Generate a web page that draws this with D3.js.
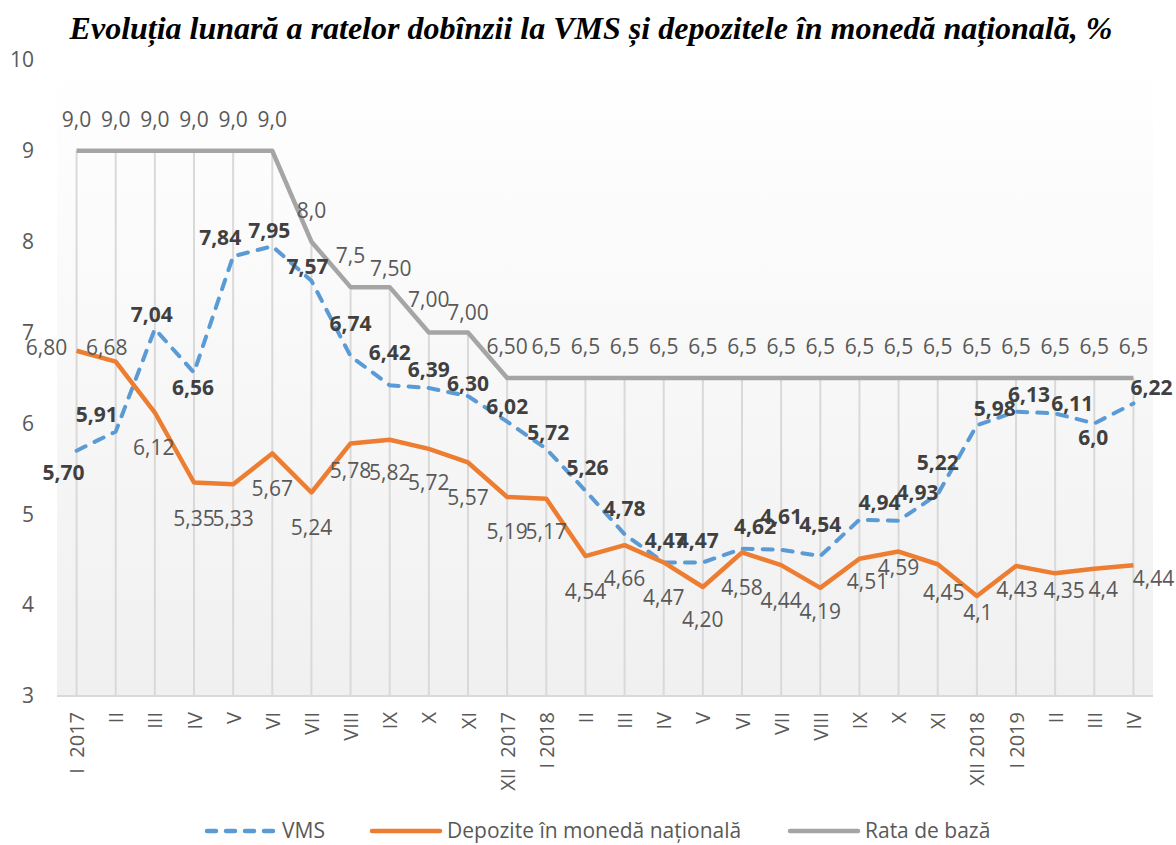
<!DOCTYPE html>
<html>
<head>
<meta charset="utf-8">
<script src="https://cdn.jsdelivr.net/npm/d3@7"></script>
<style>
  body { margin: 0; background: #fff; }
  svg text { white-space: pre; }
</style>
</head>
<body>
<div id="chart-area"></div>
<script>
// categories (months)
var categories = ["I  2017","II","III","IV","V","VI","VII","VIII","IX","X","XI","XII  2017",
    "I 2018","II","III","IV","V","VI","VII","VIII","IX","X","XI","XII 2018",
    "I 2019","II","III","IV"];

var vms = [5.70,5.91,7.04,6.56,7.84,7.95,7.57,6.74,6.42,6.39,6.30,6.02,5.72,5.26,4.78,4.47,4.47,
    4.62,4.61,4.54,4.94,4.93,5.22,5.98,6.13,6.11,6.0,6.22];
var depozite = [6.80,6.68,6.12,5.35,5.33,5.67,5.24,5.78,5.82,5.72,5.57,5.19,5.17,4.54,4.66,4.47,4.20,
    4.58,4.44,4.19,4.51,4.59,4.45,4.1,4.43,4.35,4.4,4.44];
var rataBaza = [9.0,9.0,9.0,9.0,9.0,9.0,8.0,7.5,7.50,7.00,7.00,6.50,6.5,6.5,6.5,6.5,6.5,6.5,6.5,6.5,
    6.5,6.5,6.5,6.5,6.5,6.5,6.5,6.5];

// decimals shown in the data labels
var vmsDecimals = [2,2,2,2,2,2,2,2,2,2,2,2,2,2,2,2,2,2,2,2,2,2,2,2,2,2,1,2];
var depDecimals = [2,2,2,2,2,2,2,2,2,2,2,2,2,2,2,2,2,2,2,2,2,2,2,1,2,2,1,2];
var rataDecimals = [1,1,1,1,1,1,1,1,2,2,2,2,1,1,1,1,1,1,1,1,1,1,1,1,1,1,1,1];

var yTicks = [3,4,5,6,7,8,9,10];
var seriesNames = ["VMS","Depozite în monedă națională","Rata de bază"];

// label nudges (px) relative to each point
var vmsShift = [[-13,22],[-19,-17],[-3,-14],[-1,15],[-13,-19],[-3,-16],[-4,-14],[0,-33],[0,-33],[0,-18],
    [0,-13],[0,-15],[2,-16],[2,-23],[0,-26],[2,-22],[-5,-22],[13,-22],[0,-33],[0,-31],[20,-17],[19,-28],
    [0,-32],[18,-17],[13,-17],[17,-10],[-1,14],[18,-16]];
var depShift = [[-30,-3],[-9,-14],[-1,35],[0,36],[0,34],[0,35],[0,35],[0,27],[0,33],[0,34],[0,35],[0,35],
    [0,33],[0,36],[0,33],[0,35],[0,33],[0,35],[0,35],[0,24],[8,23],[0,16],[6,28],[1,17],[1,24],[9,17],
    [9,21],[20,13]];
var rataShift = categories.map((c,i) => i == 8 ? [1,-18] : i == 10 ? [0,-20] : i == 9 ? [0,-33] : [0,-31]);

var width = 1176, height = 845;
var plotLeft = 57, plotRight = 1153, plotTop = 60, plotBottom = 696;

var svg = d3.select("#chart-area").append("svg")
    .attr("width", width)
    .attr("height", height)
    .style("font-family", "'Open Sans', sans-serif");

var grad = svg.append("defs").append("linearGradient")
    .attr("id", "bg").attr("x1", 0).attr("y1", 0).attr("x2", 0).attr("y2", 1);
grad.append("stop").attr("offset", "0%").attr("stop-color", "#ffffff");
grad.append("stop").attr("offset", "100%").attr("stop-color", "#f0f0f0");

svg.append("rect")
    .attr("x", plotLeft).attr("y", plotTop)
    .attr("width", plotRight - plotLeft).attr("height", plotBottom - plotTop)
    .attr("fill", "url(#bg)");

// title
svg.append("text")
    .attr("x", 591).attr("y", 39)
    .attr("text-anchor", "middle")
    .style("font-family", "'Liberation Serif', 'Times New Roman', serif")
    .style("font-weight", "bold")
    .style("font-style", "italic")
    .style("font-size", "32px")
    .attr("fill", "#000")
    .text("Evoluția lunară a ratelor dobînzii la VMS și depozitele în monedă națională, %");

var x = d3.scalePoint()
    .domain(d3.range(categories.length))
    .range([plotLeft, plotRight])
    .padding(0.5);

var y = d3.scaleLinear()
    .domain([3, 10])
    .range([plotBottom, plotTop]);

// drop lines
svg.append("g").selectAll("line")
    .data(d3.range(categories.length))
    .enter().append("line")
        .attr("x1", (i) => x(i)).attr("x2", (i) => x(i))
        .attr("y1", (i) => y(Math.max(vms[i], depozite[i], rataBaza[i])))
        .attr("y2", y(3))
        .attr("stroke", "#d9d9d9")
        .attr("stroke-width", 2);

// y axis
var yAxis = svg.append("g")
    .attr("transform", "translate(" + plotLeft + ",0)")
    .call(d3.axisLeft(y).tickValues(yTicks).tickFormat(d3.format("d")).tickSize(0).tickPadding(23));
yAxis.select(".domain").remove();
yAxis.selectAll("text")
    .style("font-size", "21px")
    .style("font-family", "'Open Sans', sans-serif")
    .attr("fill", "#595959");

// x axis
var xAxis = svg.append("g")
    .attr("transform", "translate(0," + plotBottom + ")")
    .call(d3.axisBottom(x).tickFormat((i) => categories[i]).tickSize(0));
xAxis.select(".domain")
    .attr("d", "M" + plotLeft + ",0H" + plotRight)
    .attr("stroke", "#d9d9d9")
    .attr("stroke-width", 2);
xAxis.selectAll("text")
    .attr("transform", "rotate(-90)")
    .attr("x", -16).attr("y", 0).attr("dy", "0.35em")
    .style("text-anchor", "end")
    .style("font-size", "20px")
    .style("font-family", "'Open Sans', sans-serif")
    .attr("fill", "#595959");

var line = d3.line()
    .x((d, i) => x(i))
    .y((d) => y(d));

svg.append("path").datum(vms)
    .attr("d", line)
    .attr("fill", "none")
    .attr("stroke", "#5b9bd5")
    .attr("stroke-width", 4)
    .attr("stroke-dasharray", "10,10")
    .attr("stroke-linecap", "round");

svg.append("path").datum(depozite)
    .attr("d", line)
    .attr("fill", "none")
    .attr("stroke", "#ed7d31")
    .attr("stroke-width", 4.5)
    .attr("stroke-linejoin", "round");

svg.append("path").datum(rataBaza)
    .attr("d", line)
    .attr("fill", "none")
    .attr("stroke", "#a5a5a5")
    .attr("stroke-width", 4.5)
    .attr("stroke-linejoin", "round");

function fmt(v, dec) {
    return v.toFixed(dec).replace(".", ",");
}

function addLabels(values, decimals, shift, weight, color) {
    svg.append("g").selectAll("text")
        .data(values)
        .enter().append("text")
            .attr("x", (d, i) => x(i) + shift[i][0])
            .attr("y", (d, i) => y(d) + shift[i][1])
            .attr("dy", "0.35em")
            .attr("text-anchor", "middle")
            .style("font-size", "21px")
            .style("font-weight", weight)
            .attr("fill", color)
            .text((d, i) => fmt(d, decimals[i]));
}

addLabels(rataBaza, rataDecimals, rataShift, "normal", "#595959");
addLabels(depozite, depDecimals, depShift, "normal", "#595959");
addLabels(vms, vmsDecimals, vmsShift, "bold", "#404040");

// legend
var legendItems = [
    {name: seriesNames[0], color: "#5b9bd5", dash: "9,10", x: 207},
    {name: seriesNames[1], color: "#ed7d31", dash: null, x: 372},
    {name: seriesNames[2], color: "#a5a5a5", dash: null, x: 790}
];
var legend = svg.append("g").attr("transform", "translate(0,831)");
legendItems.forEach((d) => {
    legend.append("line")
        .attr("x1", d.x).attr("x2", d.x + 68)
        .attr("y1", 0).attr("y2", 0)
        .attr("stroke", d.color)
        .attr("stroke-width", 4.5)
        .attr("stroke-dasharray", d.dash)
        .attr("stroke-linecap", "round");
    legend.append("text")
        .attr("x", d.x + 75).attr("y", 0).attr("dy", "0.35em")
        .style("font-size", "21px")
        .attr("fill", "#595959")
        .text(d.name);
});
</script>
</body>
</html>
